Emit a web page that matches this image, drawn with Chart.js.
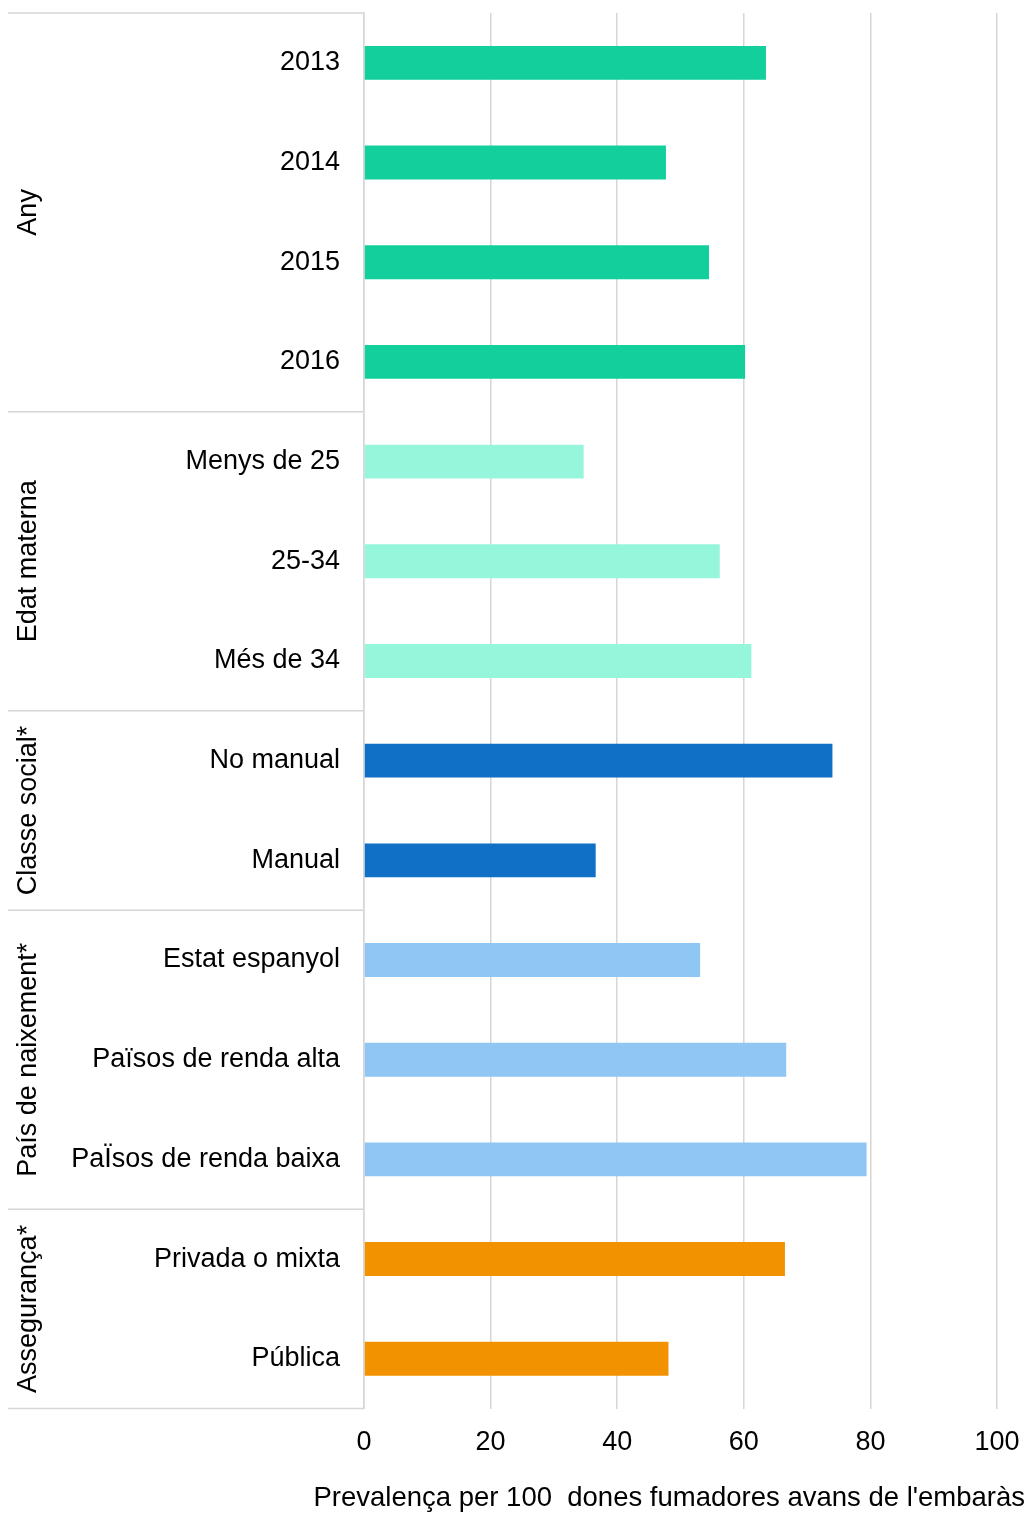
<!DOCTYPE html>
<html>
<head>
<meta charset="utf-8">
<script src="https://cdn.jsdelivr.net/npm/chart.js@4/dist/chart.umd.min.js"></script>
<style>
	html, body { margin: 0; padding: 0; background: #fff; }
	#wrap { width: 1030px; height: 1515px; }
</style>
</head>
<body>
<div id="wrap"><canvas id="chart"></canvas></div>
<script>
const categories = [
	'2013', '2014', '2015', '2016',
	'Menys de 25', '25-34', 'Més de 34',
	'No manual', 'Manual',
	'Estat espanyol', 'Països de renda alta', 'PaÏsos de renda baixa',
	'Privada o mixta', 'Pública'
];
const values = [
	63.5, 47.7, 54.5, 60.2,
	34.7, 56.2, 61.2,
	74.0, 36.6,
	53.1, 66.7, 79.4,
	66.5, 48.1
];
const groupNames = ['Any', 'Edat materna', 'Classe social*', 'País de naixement*', 'Assegurança*'];
const groupSizes = [4, 3, 2, 3, 2];
const xTicks = [0, 20, 40, 60, 80, 100];
const axisTitle = "Prevalença per 100  dones fumadores avans de l'embaràs";

const groupColors = ['#12cf9c', '#95f6dc', '#0f70c6', '#90c6f3', '#f39200'];
const gridColor = '#d6d6d6';
const FONT = 'Arial, "Liberation Sans", sans-serif';

// one colour per bar, taken from its group
let barColors = [];
groupSizes.forEach((n, g) => {
	for (let i = 0; i < n; i++) barColors.push(groupColors[g]);
});

// group separators on the left and the rotated group names
const groupPlugin = {
	id: 'groups',
	afterDraw(chart) {
		const ctx = chart.ctx;
		const y = chart.scales.y;
		const area = chart.chartArea;
		const step = y.getPixelForValue(1) - y.getPixelForValue(0);

		ctx.save();
		ctx.strokeStyle = gridColor;
		ctx.lineWidth = 1.5;
		let start = 0;
		let edges = [area.top];
		groupSizes.forEach((n) => {
			start += n;
			edges.push(y.getPixelForValue(start - 1) + step / 2);
		});
		edges.forEach((py) => {
			ctx.beginPath();
			ctx.moveTo(8, py);
			ctx.lineTo(area.left, py);
			ctx.stroke();
		});

		ctx.fillStyle = '#000';
		ctx.font = '27px ' + FONT;
		ctx.textAlign = 'center';
		ctx.textBaseline = 'alphabetic';
		groupNames.forEach((name, g) => {
			const mid = (edges[g] + edges[g + 1]) / 2;
			ctx.save();
			ctx.translate(36, mid);
			ctx.rotate(-Math.PI / 2);
			ctx.fillText(name, 0, 0);
			ctx.restore();
		});
		ctx.restore();
	}
};

new Chart(document.getElementById('chart').getContext('2d'), {
	type: 'bar',
	data: {
		labels: categories,
		datasets: [{
			data: values,
			backgroundColor: barColors,
			barPercentage: 0.34,
			categoryPercentage: 1
		}]
	},
	options: {
		indexAxis: 'y',
		responsive: true,
		maintainAspectRatio: false,
		animation: false,
		layout: {
			padding: { top: 13, right: 5, bottom: 0, left: 0 }
		},
		plugins: {
			legend: { display: false },
			tooltip: { enabled: false },
			title: {
				display: true,
				text: axisTitle,
				position: 'bottom',
				align: 'end',
				color: '#000',
				font: { family: FONT, size: 27.5, weight: 'normal' },
				padding: { top: 5, bottom: 0 }
			}
		},
		scales: {
			x: {
				min: 0,
				max: 100,
				afterBuildTicks(scale) {
					scale.ticks = xTicks.map((v) => ({ value: v }));
				},
				afterFit(scale) {
					scale.paddingRight = 33;
				},
				grid: { color: gridColor, lineWidth: 1.5, drawTicks: false },
				border: { display: false },
				ticks: {
					color: '#000',
					padding: 18,
					font: { family: FONT, size: 27 }
				}
			},
			y: {
				afterFit(scale) {
					scale.width = 364;
					scale.paddingTop = 0;
					scale.paddingBottom = 0;
				},
				grid: { display: false, drawTicks: false },
				border: { display: true, color: gridColor, width: 1.5 },
				ticks: {
					color: '#000',
					padding: 24,
					autoSkip: false,
					font: { family: FONT, size: 27 }
				}
			}
		}
	},
	plugins: [groupPlugin]
});
</script>
</body>
</html>
